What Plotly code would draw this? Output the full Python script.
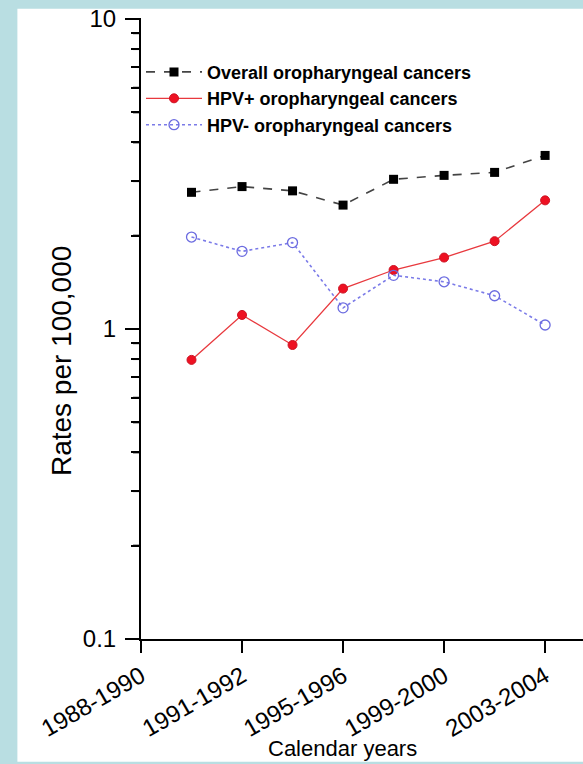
import math
import plotly.graph_objects as go

# ---- data ----
point_pos = [1, 2, 3, 4, 5, 6, 7, 8]
tick_pos = [0, 2, 4, 6, 8]
tick_labels = ["1988-1990", "1991-1992", "1995-1996", "1999-2000", "2003-2004"]

overall = [2.76, 2.88, 2.79, 2.51, 3.04, 3.13, 3.20, 3.63]
hpv_pos = [0.795, 1.11, 0.888, 1.35, 1.55, 1.70, 1.92, 2.60]
hpv_neg = [1.98, 1.78, 1.90, 1.17, 1.49, 1.42, 1.28, 1.03]

names = ["Overall oropharyngeal cancers", "HPV+ oropharyngeal cancers", "HPV- oropharyngeal cancers"]

major_y = [0.1, 1, 10]
major_y_labels = ["0.1", "1", "10"]
minor_y = [0.2, 0.3, 0.4, 0.5, 0.6, 0.7, 0.8, 0.9, 2, 3, 4, 5, 6, 7, 8, 9]

W, H = 583, 764
L, R, T, B = 140.7, 0, 19.3, 124.7
pw, ph = W - L - R, H - T - B
Y_LOG_RANGE = [-1, 1]

FONT = "Liberation Sans, Arial, sans-serif"

fig = go.Figure()
fig.add_trace(go.Scatter(
    x=point_pos, y=overall, name=names[0], mode="lines+markers",
    line=dict(color="#444444", width=1.6, dash="dash"),
    marker=dict(symbol="square", size=9, color="black"),
))
fig.add_trace(go.Scatter(
    x=point_pos, y=hpv_pos, name=names[1], mode="lines+markers",
    line=dict(color="#e8393e", width=1.3),
    marker=dict(symbol="circle", size=9, color="#ee1122", line=dict(color="#cc1122", width=1)),
))
fig.add_trace(go.Scatter(
    x=point_pos, y=hpv_neg, name=names[2], mode="lines+markers",
    line=dict(color="#7b7be8", width=1.6, dash="dot"),
    marker=dict(symbol="circle-open", size=10, color="#6b6be0", line=dict(width=1.3)),
))


def ytick_shape(v, length):
    yp = (math.log10(v) - Y_LOG_RANGE[0]) / (Y_LOG_RANGE[1] - Y_LOG_RANGE[0])
    return dict(type="line", xref="paper", yref="paper", x0=-length / pw, x1=0,
                y0=yp, y1=yp, line=dict(color="black", width=2), layer="above")


tick_shapes = [ytick_shape(v, 16) for v in major_y] + [ytick_shape(v, 8) for v in minor_y]

fig.update_layout(
    width=W, height=H,
    margin=dict(l=L, r=R, t=T, b=B, autoexpand=False),
    paper_bgcolor="#b9dee2",
    plot_bgcolor="white",
    font=dict(family=FONT, color="black"),
    showlegend=True,
    legend=dict(
        x=0.0, y=0.944, xanchor="left", yanchor="top",
        bgcolor="rgba(0,0,0,0)",
        font=dict(family=FONT, size=18, color="black", weight="bold"),
        itemwidth=56, tracegroupgap=0,
    ),
    xaxis=dict(
        range=[0, 8.75], tickmode="array", tickvals=tick_pos, ticktext=tick_labels,
        tickangle=-30, ticks="outside", ticklen=12, tickwidth=2, tickcolor="black",
        showline=True, linecolor="black", linewidth=2, showgrid=False, zeroline=False,
        tickfont=dict(family=FONT, size=24, color="black"),
    ),
    yaxis=dict(
        type="log", range=Y_LOG_RANGE, tickmode="array",
        tickvals=major_y + minor_y,
        ticktext=major_y_labels + [""] * len(minor_y),
        ticks="outside", ticklen=8, tickwidth=2, tickcolor="black", ticklabelstandoff=10,
        showline=True, linecolor="black", linewidth=2, showgrid=False, zeroline=False,
        tickfont=dict(family=FONT, size=24, color="black"),
    ),
    shapes=[dict(
        type="rect", xref="paper", yref="paper", layer="below",
        x0=(17 - L) / pw, x1=1.01, y0=-(762 - (H - B)) / ph, y1=((H - B) - 9) / ph,
        fillcolor="white", line=dict(width=0),
    )] + tick_shapes,
    annotations=[
        dict(text="Rates per 100,000", textangle=-90, xref="paper", yref="paper",
             x=(61 - L) / pw, y=((H - B) - 361) / ph, xanchor="center", yanchor="middle",
             showarrow=False, font=dict(family=FONT, size=28, color="black")),
        dict(text="Calendar years", xref="paper", yref="paper",
             x=(342 - L) / pw, y=-((749) - (H - B)) / ph, xanchor="center", yanchor="middle",
             showarrow=False, font=dict(family=FONT, size=22, color="black")),
    ],
)

fig.write_html("out.html")
